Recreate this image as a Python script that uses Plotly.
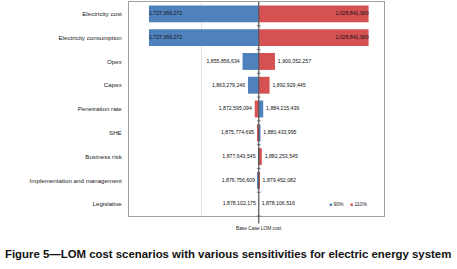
import plotly.graph_objects as go

categories = ["Electricity cost", "Electricity consumption", "Opex", "Capex",
              "Penetration rate", "SHE", "Business risk",
              "Implementation and management", "Legislative"]
base_case = 1878104345
values_90 = [1727366272, 1727366272, 1855856634, 1863279246,
             1884215439, 1880433995, 1877643545, 1876756609, 1878102175]
values_110 = [2028841969, 2028841969, 1900352257, 1892929445,
              1872595094, 1875774695, 1882253545, 1879452082, 1878106516]

BLUE = "#4F81BD"
RED = "#D65252"
FONT = "Liberation Sans, Arial, sans-serif"
NB = "\u00a0"

def fmt(v):
    return f"{v:,}"

def labels(vals):
    pos, txt = [], []
    for v in vals:
        left = v < base_case
        inside = abs(v - base_case) > 60e6
        if inside:
            pos.append("middle right" if left else "middle left")
            txt.append(fmt(v))
        elif left:
            pos.append("middle left")
            txt.append(fmt(v) + NB + NB)
        else:
            pos.append("middle right")
            txt.append(NB + NB + fmt(v))
    return pos, txt

fig = go.Figure()
for name, vals, col in [("90%", values_90, BLUE), ("110%", values_110, RED)]:
    fig.add_trace(go.Bar(
        y=categories, x=[v - base_case for v in vals], base=base_case,
        orientation="h", name=name, marker=dict(color=col, line=dict(width=0)),
        showlegend=False, hoverinfo="skip",
    ))
for vals in (values_90, values_110):
    pos, txt = labels(vals)
    fig.add_trace(go.Scatter(
        y=categories, x=vals, mode="text", text=txt,
        textposition=pos, cliponaxis=False, showlegend=False,
        hoverinfo="skip", textfont=dict(family=FONT, size=5.2, color="#111"),
    ))

fig.update_layout(
    width=457, height=269, barmode="overlay", bargap=0.29,
    margin=dict(l=129, r=73, t=2, b=53),
    paper_bgcolor="white", plot_bgcolor="white",
    xaxis=dict(range=[1.7e9, 2.05e9], tickvals=[1.8e9], showticklabels=False,
               showgrid=True, gridcolor="#e4e4e4", gridwidth=1, zeroline=False,
               showline=True, mirror=True, linecolor="#a0a0a0", linewidth=1),
    yaxis=dict(categoryorder="array", categoryarray=categories, autorange="reversed",
               showline=True, mirror=True, linecolor="#a0a0a0", linewidth=1,
               ticks="", ticklabelstandoff=5, showgrid=False,
               tickfont=dict(family=FONT, size=6.2, color="#222")),
)

# base case vertical line with small ticks at category boundaries
fig.add_shape(type="line", xref="x", yref="paper", x0=base_case, x1=base_case,
              y0=-0.035, y1=1, line=dict(color="#555", width=1.2))
n = len(categories)
for i in range(1, n + 1):
    fig.add_shape(type="line", xref="x", yref="paper",
                  x0=base_case - 2.5e6, x1=base_case + 2.5e6,
                  y0=1 - i / n, y1=1 - i / n, line=dict(color="#555", width=0.8))
fig.add_annotation(x=base_case, xref="x", y=-0.06, yref="paper", yanchor="middle",
                   text="Base Case LOM cost", showarrow=False,
                   font=dict(family=FONT, size=4.8, color="#222"))

# legend
fig.add_annotation(x=0.85, xref="paper", y=0.034, yref="paper", xanchor="right",
                   text=f"<span style='color:{BLUE}'>■</span> 90%", showarrow=False,
                   font=dict(family=FONT, size=5, color="#222"))
fig.add_annotation(x=0.86, xref="paper", y=0.034, yref="paper", xanchor="left",
                   text=f"<span style='color:{RED}'>■</span> 110%", showarrow=False,
                   font=dict(family=FONT, size=5, color="#222"))

fig.add_annotation(x=0.388, xref="paper", y=-0.178, yref="paper", yanchor="middle",
                   text="<b>Figure 5—LOM cost scenarios with various sensitivities for electric energy system</b>",
                   showarrow=False,
                   font=dict(family=FONT, size=11.4, color="#111"))

fig.write_html("out.html", config={"displayModeBar": False},
               post_script="document.body.style.margin='0';")
